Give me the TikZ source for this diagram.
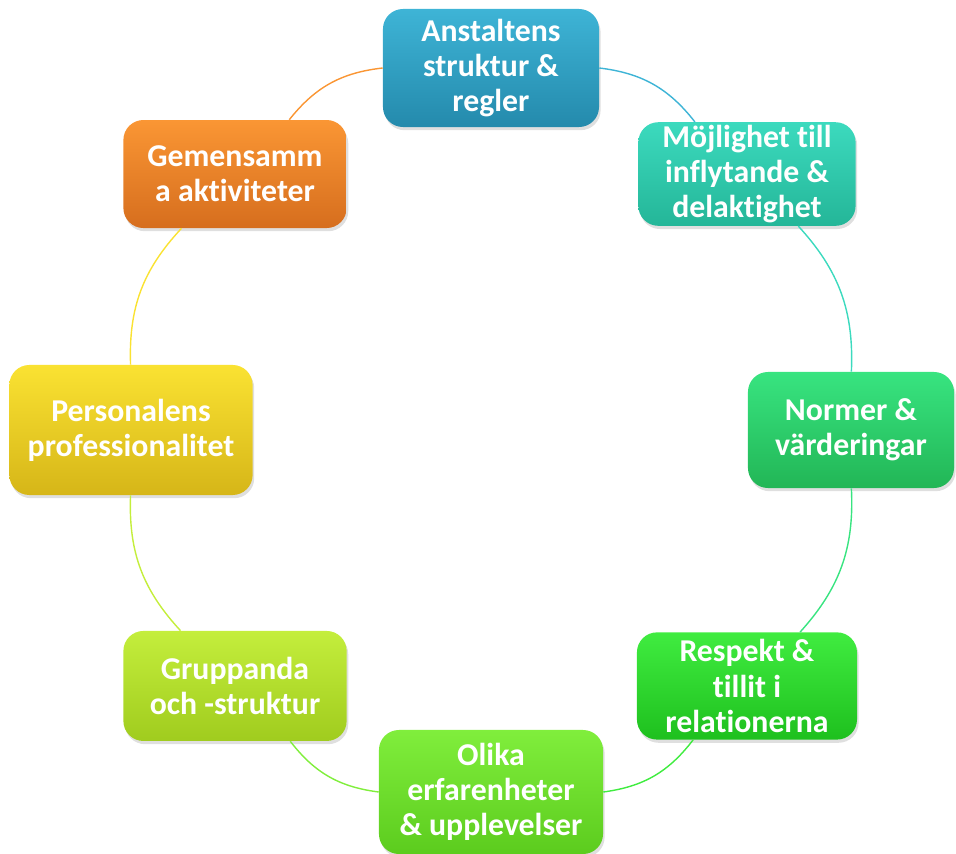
\documentclass[tikz,border=0pt]{standalone}
\usepackage{fontspec}
\setmainfont{Carlito}[Ligatures={NoCommon}]
\usetikzlibrary{shadows}

\definecolor{ansTop}{RGB}{62,180,214}
\definecolor{ansBot}{RGB}{36,138,172}
\definecolor{mojTop}{RGB}{60,218,190}
\definecolor{mojBot}{RGB}{36,182,152}
\definecolor{norTop}{RGB}{56,228,128}
\definecolor{norBot}{RGB}{34,182,86}
\definecolor{resTop}{RGB}{64,236,64}
\definecolor{resBot}{RGB}{30,192,30}
\definecolor{oliTop}{RGB}{128,238,60}
\definecolor{oliBot}{RGB}{92,204,30}
\definecolor{gruTop}{RGB}{196,238,60}
\definecolor{gruBot}{RGB}{160,204,30}
\definecolor{perTop}{RGB}{250,226,50}
\definecolor{perBot}{RGB}{214,182,24}
\definecolor{gemTop}{RGB}{250,150,52}
\definecolor{gemBot}{RGB}{214,110,30}

\begin{document}
\begin{tikzpicture}[
  x=0.025cm, y=0.025cm,
  stagebox/.style={rectangle, rounded corners=0.5cm, align=center, text=white, inner sep=2pt,
    font=\fontsize{22.6}{25}\selectfont\bfseries,
    drop shadow={opacity=0.25, shadow xshift=0.4mm, shadow yshift=-0.8mm}},
  link/.style={line width=1pt, bend left=22.5}
]
\useasboundingbox (-491,-424) rectangle (465,430);

% ------------------------------------------------------------
% Boxes round the circle
% ------------------------------------------------------------

\node[stagebox, top color=ansTop, bottom color=ansBot, minimum width=5.4cm, minimum height=2.95cm]
  (ans) at (90:362) {Anstaltens\\struktur \&\\regler};
\node[stagebox, top color=mojTop, bottom color=mojBot, minimum width=5.43cm, minimum height=2.5cm]
  (moj) at (45:362) {Möjlighet till\\inflytande \&\\delaktighet};
\node[stagebox, top color=norTop, bottom color=norBot, minimum width=5.15cm, minimum height=2.9cm]
  (nor) at (0:360) {Normer \&\\värderingar};
\node[stagebox, top color=resTop, bottom color=resBot, minimum width=5.5cm, minimum height=2.68cm]
  (res) at (-45:362) {Respekt \&\\tillit i\\relationerna};
\node[stagebox, top color=oliTop, bottom color=oliBot, minimum width=5.6cm, minimum height=3.1cm]
  (oli) at (-90:362) {Olika\\erfarenheter\\\& upplevelser};
\node[stagebox, top color=gruTop, bottom color=gruBot, minimum width=5.58cm, minimum height=2.75cm]
  (gru) at (-135:362) {Gruppanda\\och -struktur};
\node[stagebox, top color=perTop, bottom color=perBot, minimum width=6.08cm, minimum height=3.25cm]
  (per) at (180:360) {Personalens\\professionalitet};
\node[stagebox, top color=gemTop, bottom color=gemBot, minimum width=5.58cm, minimum height=2.7cm]
  (gem) at (135:362) {Gemensamm\\a aktiviteter};

% ------------------------------------------------------------
% Circle arcs
% ------------------------------------------------------------

\draw[link, ansTop] (ans) to (moj);
\draw[link, mojTop] (moj) to (nor);
\draw[link, norTop] (nor) to (res);
\draw[link, resTop] (res) to (oli);
\draw[link, oliTop] (oli) to (gru);
\draw[link, gruTop] (gru) to (per);
\draw[link, perTop] (per) to (gem);
\draw[link, gemTop] (gem) to (ans);

\end{tikzpicture}
\end{document}
